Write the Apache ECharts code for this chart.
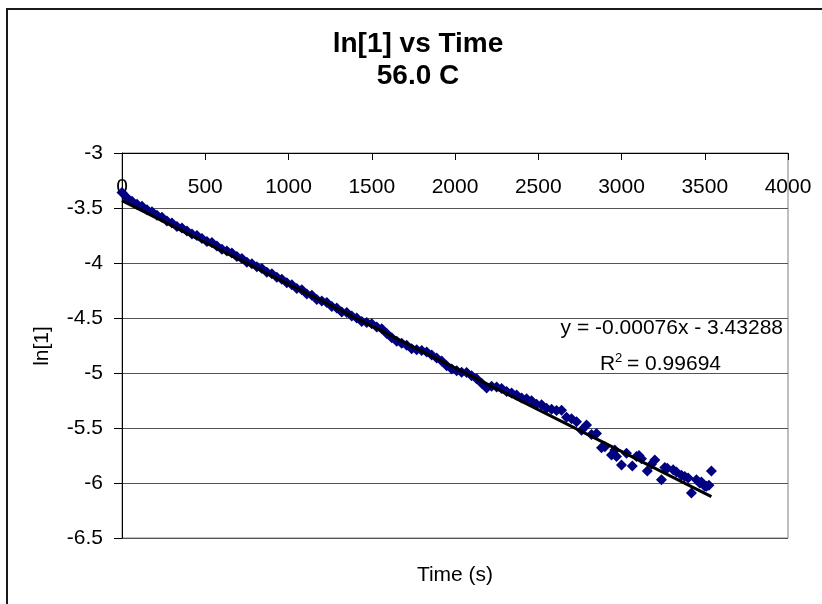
<!DOCTYPE html>
<html>
<head>
<meta charset="utf-8">
<script src="https://cdn.jsdelivr.net/npm/echarts@6/dist/echarts.min.js"></script>
<style>
html,body{margin:0;padding:0;background:#fff;}
#chart{width:822px;height:604px;}
</style>
</head>
<body>
<div id="chart"></div>
<script>
// ---- data ----
const timeS = [
  0,30,60,90,120,150,180,210,240,270,300,330,360,390,420,450,480,510,540,570,
  600,630,660,690,720,750,780,810,840,870,900,930,960,990,1020,1050,1080,1110,1140,1170,
  1200,1230,1260,1290,1320,1350,1380,1410,1440,1470,1500,1530,1560,1590,1620,1650,1680,1710,1740,1770,
  1800,1830,1860,1890,1920,1950,1980,2010,2040,2070,2100,2130,2160,2190,2220,2250,2280,2310,2340,2370,
  2400,2430,2460,2490,2520,2550,2580,2610,2640,2670,2700,2730,2760,2790,
  2820,2850,2880,2900,2940,2960,2970,3000,3030,3065,3090,3105,3120,3155,3180,3200,
  3240,3260,3275,3310,3330,3360,3380,3400,3420,3450,3470,3480,3500,3510,3525,3540
];
const lnValues = [
  -3.358,-3.406,-3.438,-3.466,-3.484,-3.517,-3.535,-3.567,-3.585,-3.618,-3.636,-3.669,-3.681,-3.709,-3.737,-3.750,-3.778,-3.805,-3.813,-3.846,
  -3.874,-3.892,-3.909,-3.942,-3.960,-3.993,-4.006,-4.033,-4.051,-4.084,-4.097,-4.130,-4.147,-4.180,-4.198,-4.231,-4.244,-4.281,-4.294,-4.332,
  -4.345,-4.358,-4.395,-4.408,-4.446,-4.449,-4.482,-4.499,-4.532,-4.540,-4.553,-4.581,-4.598,-4.641,-4.679,-4.712,-4.730,-4.747,-4.780,-4.788,
  -4.796,-4.809,-4.836,-4.864,-4.892,-4.935,-4.963,-4.980,-4.993,-4.996,-5.024,-5.052,-5.094,-5.137,-5.120,-5.128,-5.141,-5.168,-5.181,-5.199,
  -5.227,-5.235,-5.252,-5.285,-5.288,-5.321,-5.329,-5.341,-5.339,-5.402,-5.415,-5.443,-5.520,-5.473,
  -5.56,-5.55,-5.68,-5.67,-5.745,-5.70,-5.76,-5.836,-5.73,-5.845,-5.76,-5.75,-5.78,-5.89,-5.83,-5.79,
  -5.97,-5.86,-5.865,-5.88,-5.90,-5.93,-5.94,-5.955,-6.09,-5.97,-6.00,-5.99,-6.03,-6.03,-6.02,-5.89
];
const trendSlope = -0.00076;
const trendIntercept = -3.43288;
const xTicks = [0, 4000, 500];      // min, max, interval
const yTicks = [-6.5, -3, 0.5];     // min, max, interval
const titleLines = ['ln[1] vs Time', '56.0 C'];
const xName = 'Time (s)';
const yName = 'ln[1]';
const eqLine = 'y = -0.00076x - 3.43288';
const r2Value = '= 0.99694';

// ---- build ----
const points = timeS.map((t, i) => [t, lnValues[i]]);
const tMin = Math.min(...timeS), tMax = Math.max(...timeS);
const trend = [[tMin, trendSlope * tMin + trendIntercept], [tMax, trendSlope * tMax + trendIntercept]];

const FF = '"Liberation Sans", Arial, sans-serif';
const chart = echarts.init(document.getElementById('chart'), null, {renderer: 'canvas'});
chart.setOption({
  animation: false,
  backgroundColor: '#fff',
  grid: {left: 122, top: 153, width: 666, height: 385, show: true, borderColor: '#808080', borderWidth: 1, backgroundColor: 'transparent'},
  xAxis: {
    type: 'value', position: 'top', min: xTicks[0], max: xTicks[1], interval: xTicks[2],
    axisLine: {show: true, onZero: false, lineStyle: {color: '#000', width: 1}},
    axisTick: {show: true, inside: true, length: 7, lineStyle: {color: '#000'}},
    axisLabel: {inside: true, margin: 24, color: '#000', fontFamily: FF, fontSize: 21, showMinLabel: true, showMaxLabel: true,
                formatter: v => String(v)},
    splitLine: {show: false}
  },
  yAxis: {
    type: 'value', min: yTicks[0], max: yTicks[1], interval: yTicks[2],
    axisLine: {show: true, onZero: false, lineStyle: {color: '#000', width: 1}},
    axisTick: {show: true, inside: false, length: 8, lineStyle: {color: '#000'}},
    axisLabel: {margin: 19, color: '#000', fontFamily: FF, fontSize: 21, formatter: v => String(v)},
    splitLine: {show: true, lineStyle: {color: '#555', width: 1}}
  },
  series: [
    {type: 'scatter', data: points, symbol: 'diamond', symbolSize: 11,
     itemStyle: {color: '#000080', opacity: 1}, z: 2, silent: true},
    {type: 'line', data: trend, symbol: 'none', lineStyle: {color: '#000', width: 3}, z: 3, silent: true}
  ],
  graphic: [
    {type: 'rect', shape: {x: 7, y: 9, width: 1000, height: 1000}, style: {fill: 'none', stroke: '#1a1a1a', lineWidth: 2}, z: 0, silent: true},
    {type: 'text', x: 418, y: 44, style: {text: titleLines[0], font: 'bold 28px ' + FF, fill: '#000', align: 'center', verticalAlign: 'middle', textAlign: 'center', textVerticalAlign: 'middle'}},
    {type: 'text', x: 418, y: 76, style: {text: titleLines[1], font: 'bold 28px ' + FF, fill: '#000', align: 'center', verticalAlign: 'middle', textAlign: 'center', textVerticalAlign: 'middle'}},
    {type: 'text', x: 455, y: 575, style: {text: xName, font: '21px ' + FF, fill: '#000', align: 'center', verticalAlign: 'middle', textAlign: 'center', textVerticalAlign: 'middle'}},
    {type: 'text', x: 42, y: 346, rotation: Math.PI / 2, style: {text: yName, font: '21px ' + FF, fill: '#000', align: 'center', verticalAlign: 'middle', textAlign: 'center', textVerticalAlign: 'middle'}},
    {type: 'text', x: 783, y: 328, z: 10, style: {text: eqLine, font: '21px ' + FF, fill: '#000', align: 'right', verticalAlign: 'middle', textAlign: 'right', textVerticalAlign: 'middle'}},
    {type: 'text', x: 600, y: 364, z: 10, style: {text: 'R', font: '21px ' + FF, fill: '#000', align: 'left', verticalAlign: 'middle', textAlign: 'left', textVerticalAlign: 'middle'}},
    {type: 'text', x: 615, y: 358, z: 10, style: {text: '2', font: '13px ' + FF, fill: '#000', align: 'left', verticalAlign: 'middle', textAlign: 'left', textVerticalAlign: 'middle'}},
    {type: 'text', x: 627, y: 364, z: 10, style: {text: r2Value, font: '21px ' + FF, fill: '#000', align: 'left', verticalAlign: 'middle', textAlign: 'left', textVerticalAlign: 'middle'}}
  ]
});
</script>
</body>
</html>
